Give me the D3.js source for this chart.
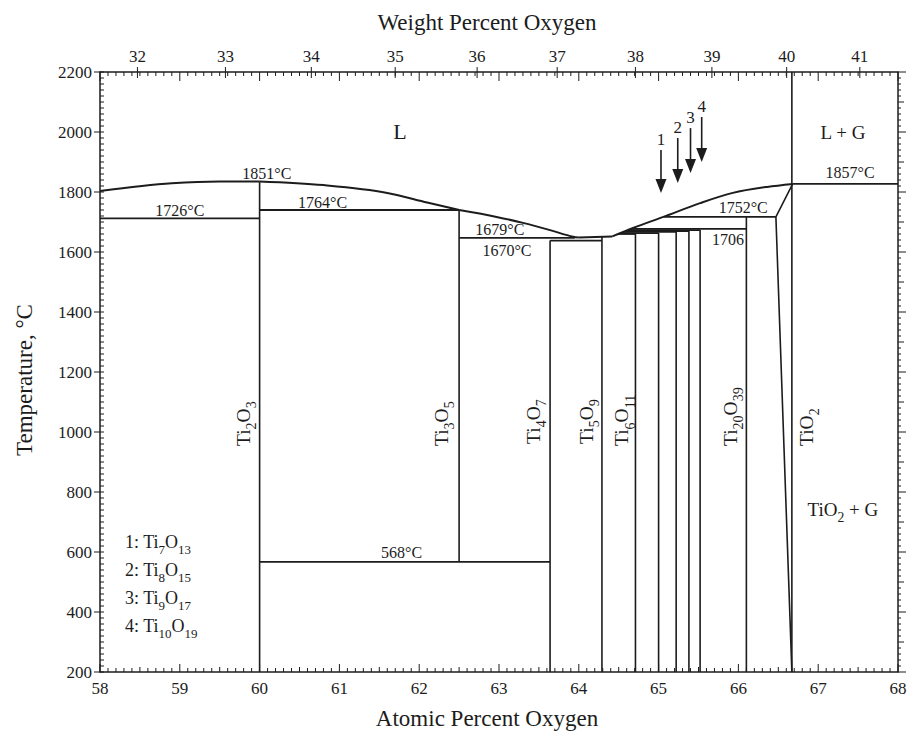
<!DOCTYPE html>
<html><head><meta charset="utf-8">
<script src="https://cdn.jsdelivr.net/npm/d3@7"></script>
<style>
body{margin:0;background:#fff}
text{font-family:"Liberation Serif","Times New Roman",serif;fill:#1c1c1c}
</style>
</head><body>
<svg id="c" width="911" height="742"></svg>
<script>
// ---------- data ----------
const atomicTicks=[58,59,60,61,62,63,64,65,66,67,68];
const tempTicks=[200,400,600,800,1000,1200,1400,1600,1800,2000,2200];
const weightTicks=[32,33,34,35,36,37,38,39,40,41];

const liquidusA=[[58,1803],[58.9,1829],[59.5,1835],[60,1835]];
const liquidusB=[[60,1835],[60.8,1823],[61.6,1797],[62.1,1765],[62.5,1740]];
const liquidusC=[[62.5,1740],[62.97,1717],[63.3,1697],[63.64,1673],[63.93,1651],[64.0,1648]];
const liquidusFlat=[[64.0,1648],[64.42,1652]];
const liquidusD=[[64.42,1652],[64.68,1680],[65.06,1717],[65.52,1763],[65.93,1797],[66.36,1817],[66.68,1827]];
const tio2Boundary=[[66.67,200],[66.47,1717],[66.68,1827]];

// isotherms: [from at%, to at%, temperature]
const isotherms=[[58,60,1712],[60,62.5,1740],[62.5,63.95,1647],[63.64,64.29,1638],[60,63.64,567],
  [66.68,68,1827],[65.06,66.47,1717],[64.65,66.10,1677],
  [64.49,64.71,1660],[64.52,65.0,1663],[64.56,65.22,1667],[64.59,65.38,1670],[64.62,65.52,1673]];

const compounds=["Ti_2O_3","Ti_3O_5","Ti_4O_7","Ti_5O_9","Ti_6O_11","Ti_7O_13","Ti_8O_15","Ti_9O_17","Ti_10O_19","Ti_20O_39","TiO_2"];
const compoundAt=[60,62.5,63.64,64.29,64.71,65.0,65.22,65.38,65.52,66.10,66.67];
const compoundTop=[1835,1740,1638,1652,1660,1663,1667,1670,1673,1717,2200];
const compoundBottom=[200,567,200,200,200,200,200,200,200,200,200];

const rotLabels=["Ti_2O_3","Ti_3O_5","Ti_4O_7","Ti_5O_9","Ti_6O_11","Ti_20O_39","TiO_2"];
const rotLabelAt=[59.88,62.36,63.51,64.18,64.62,65.98,66.93];
const rotLabelT=[953,953,960,960,953,953,953];

const arrowNames=["1","2","3","4"];
const arrowAt=[65.03,65.24,65.40,65.54];
const arrowFrom=[1940,1980,2013,2050];
const arrowTo=[1797,1830,1863,1900];

const noteText=["L","L + G","1851°C","1726°C","1764°C","1679°C","1670°C","1752°C","1706","1857°C","568°C","TiO_2 + G"];
const noteAt=[61.76,67.31,60.09,59.0,60.79,63.01,63.10,66.06,65.87,67.40,61.78,67.31];
const noteT=[1997,1997,1863,1740,1767,1677,1607,1750,1643,1867,600,740];

const legendLines=["1: Ti_7O_13","2: Ti_8O_15","3: Ti_9O_17","4: Ti_10O_19"];

// ---------- scales ----------
const svg=d3.select("#c");
const L=100,R=898,T=72,B=672;
const x=d3.scaleLinear().domain([58,68]).range([L,R]);
const y=d3.scaleLinear().domain([200,2200]).range([B,T]);
const wtToAt=w=>100*(w/16)/((w/16)+((100-w)/47.867));
const ink="#1c1c1c";

function formula(sel,str,fs){
  const parts=str.split(/(_\d+)/).filter(s=>s.length);
  let sub=false;
  parts.forEach(p=>{
    if(p[0]==="_"){
      sel.append("tspan").attr("font-size",fs*0.72).attr("dy",fs*0.32).text(p.slice(1));
      sub=true;
    }else{
      const t=sel.append("tspan").attr("font-size",fs).text(p);
      if(sub){t.attr("dy",-fs*0.32);sub=false;}
    }
  });
}

// ---------- frame & ticks ----------
const g=svg.append("g").attr("stroke",ink).attr("fill","none");
g.append("rect").attr("x",L).attr("y",T).attr("width",R-L).attr("height",B-T).attr("stroke-width",1.5);

d3.range(200,2201,20).forEach(v=>{
  const major=tempTicks.includes(v);
  g.append("line").attr("x1",major?L-6:L).attr("x2",L+4).attr("y1",y(v)).attr("y2",y(v)).attr("stroke-width",1);
  const len=major?8:(v%100===0?6:3);
  g.append("line").attr("x1",R).attr("x2",R+len).attr("y1",y(v)).attr("y2",y(v)).attr("stroke-width",1);
});
svg.append("g").selectAll("text").data(tempTicks).join("text")
  .attr("x",L-8).attr("y",d=>y(d)).attr("dy","0.35em").attr("text-anchor","end")
  .attr("font-size",17).text(d=>d);

d3.range(580,681,1).forEach(i=>{
  const v=i/10, major=i%10===0, half=i%5===0;
  const len=major?8:(half?5:4);
  g.append("line").attr("x1",x(v)).attr("x2",x(v)).attr("y1",B).attr("y2",B-len).attr("stroke-width",1);
  g.append("line").attr("x1",x(v)).attr("x2",x(v)).attr("y1",T).attr("y2",T+(major?9:4)).attr("stroke-width",1);
});
svg.append("g").selectAll("text").data(atomicTicks).join("text")
  .attr("x",d=>x(d)).attr("y",B+22).attr("text-anchor","middle").attr("font-size",17).text(d=>d);
weightTicks.forEach(w=>{
  g.append("line").attr("x1",x(wtToAt(w))).attr("x2",x(wtToAt(w))).attr("y1",T-5).attr("y2",T+6).attr("stroke-width",1);
});
svg.append("g").selectAll("text").data(weightTicks).join("text")
  .attr("x",d=>x(wtToAt(d))).attr("y",T-10).attr("text-anchor","middle").attr("font-size",17).text(d=>d);

svg.append("text").attr("x",487).attr("y",30).attr("text-anchor","middle").attr("font-size",23).text("Weight Percent Oxygen");
svg.append("text").attr("x",487).attr("y",726).attr("text-anchor","middle").attr("font-size",23).text("Atomic Percent Oxygen");
svg.append("text").attr("transform","translate(32,380) rotate(-90)").attr("text-anchor","middle").attr("font-size",23).text("Temperature, °C");

// ---------- phase boundaries ----------
const curve=d3.line().x(d=>x(d[0])).y(d=>y(d[1])).curve(d3.curveMonotoneX);
const straight=d3.line().x(d=>x(d[0])).y(d=>y(d[1]));
const pg=svg.append("g").attr("fill","none").attr("stroke",ink);
[liquidusA,liquidusB,liquidusC,liquidusD].forEach(c=>pg.append("path").attr("d",curve(c)).attr("stroke-width",2));
pg.append("path").attr("d",straight(liquidusFlat)).attr("stroke-width",2);
pg.append("path").attr("d",straight(tio2Boundary)).attr("stroke-width",1.6);

pg.selectAll("line.iso").data(isotherms).join("line").attr("class","iso")
  .attr("x1",d=>x(d[0])).attr("x2",d=>x(d[1])).attr("y1",d=>y(d[2])).attr("y2",d=>y(d[2])).attr("stroke-width",1.8);

pg.selectAll("line.cmp").data(compoundAt).join("line").attr("class","cmp")
  .attr("x1",d=>x(d)).attr("x2",d=>x(d))
  .attr("y1",(d,i)=>y(compoundTop[i])).attr("y2",(d,i)=>y(compoundBottom[i])).attr("stroke-width",1.6);

arrowAt.forEach((a,i)=>{
  const ax=x(a), y0=y(arrowFrom[i]), y1=y(arrowTo[i]);
  pg.append("line").attr("x1",ax).attr("x2",ax).attr("y1",y0).attr("y2",y1-12).attr("stroke-width",1.6);
  svg.append("path").attr("d",`M${ax-5.5},${y1-14}L${ax+5.5},${y1-14}L${ax},${y1}Z`).attr("fill",ink);
  svg.append("text").attr("x",ax).attr("y",y0-5).attr("text-anchor","middle").attr("font-size",17).text(arrowNames[i]);
});

// ---------- labels ----------
rotLabels.forEach((s,i)=>{
  const t=svg.append("text").attr("transform",`translate(${x(rotLabelAt[i])},${y(rotLabelT[i])}) rotate(-90)`);
  formula(t,s,19.5);
});
noteText.forEach((s,i)=>{
  const big=(s==="L"||s==="L + G"||s.startsWith("TiO"));
  const fs=s==="L"?22:(big?19:16);
  const t=svg.append("text").attr("x",x(noteAt[i])).attr("y",y(noteT[i])).attr("dy","0.35em").attr("text-anchor","middle");
  formula(t,s,fs);
});
legendLines.forEach((s,i)=>{
  const t=svg.append("text").attr("x",125).attr("y",y(613)+i*28);
  formula(t,s,18);
});
</script>
</body></html>
